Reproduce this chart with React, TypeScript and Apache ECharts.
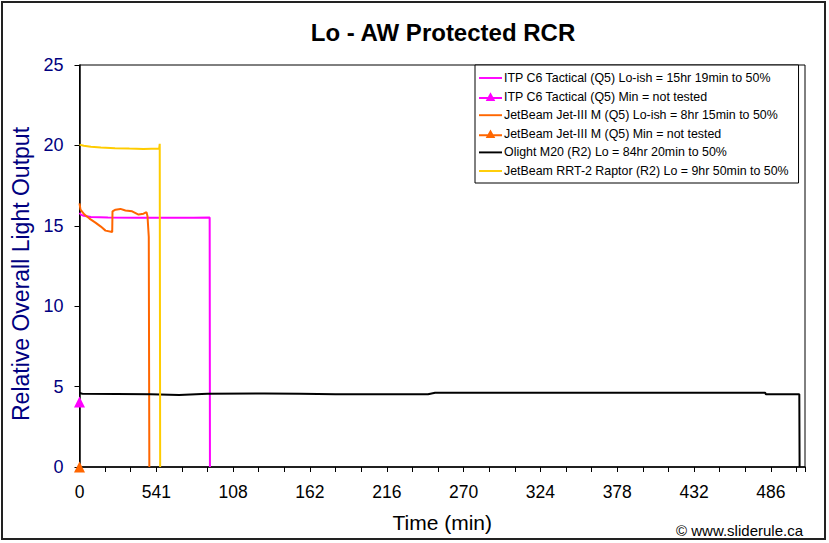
import React, { useEffect, useRef } from "react";
import * as echarts from "echarts";

const TITLE = "Lo - AW Protected RCR";
const X_TICK_LABELS = ["0", "541", "108", "162", "216", "270", "324", "378", "432", "486"];

const SERIES_NAMES = [
  "ITP C6 Tactical (Q5) Lo-ish = 15hr 19min to 50%",
  "ITP C6 Tactical (Q5) Min = not tested",
  "JetBeam Jet-III M (Q5) Lo-ish = 8hr 15min to 50%",
  "JetBeam Jet-III M (Q5) Min = not tested",
  "Olight M20 (R2) Lo = 84hr 20min to 50%",
  "JetBeam RRT-2 Raptor (R2) Lo = 9hr 50min to 50%",
];
const SERIES_COLORS = ["#FF00FF", "#FF00FF", "#FF6600", "#FF6600", "#000000", "#FFCC00"];

const itpLo: [number, number][] = [
  [0, 15.8], [1, 15.7], [3, 15.62], [8, 15.55], [20, 15.52], [40, 15.5],
  [60, 15.5], [80, 15.5], [91.5, 15.52], [91.7, 0],
];
const itpMin: [number, number][] = [[0, 4.05]];
const jetLo: [number, number][] = [
  [0, 16.4], [0.7, 16.0], [3.5, 15.7], [7, 15.45], [11.2, 15.2], [15, 14.95],
  [18.3, 14.7], [23, 14.62], [23.2, 15.9], [25.3, 16.0], [28.8, 16.05],
  [32.3, 15.95], [37, 15.9], [41.5, 15.7], [45, 15.75], [47.1, 15.85],
  [47.8, 15.6], [48.7, 14.3], [49.1, 0],
];
const jetMin: [number, number][] = [[0, 0]];
const olightLo: [number, number][] = [
  [0, 4.6], [2, 4.55], [50, 4.52], [70, 4.48], [90, 4.55], [130, 4.57],
  [155, 4.55], [180, 4.52], [245, 4.52], [250, 4.62], [400, 4.62],
  [482, 4.62], [482.5, 4.52], [506, 4.52], [506.2, 0],
];
const rrtLo: [number, number][] = [
  [0, 20.05], [3, 19.98], [8, 19.92], [15, 19.87], [25, 19.83], [35, 19.8],
  [45, 19.78], [56, 19.8], [56.4, 20.1], [56.7, 0],
];

const FONT = "Liberation Sans, Arial, sans-serif";
const LINE_ICON = "path://M0,5H24V7H0Z";
const TRI_ICON = "path://M0,5H24V7H0Z M12,0L17,9H7Z";

export default function App() {
  const ref = useRef<HTMLDivElement>(null);
  useEffect(() => {
    if (!ref.current) return;
    const chart = echarts.init(ref.current, undefined, { renderer: "svg" });
    const lineSeries = (i: number, data: [number, number][]) => ({
      name: SERIES_NAMES[i],
      type: "line",
      data,
      showSymbol: false,
      symbol: "none",
      lineStyle: { color: SERIES_COLORS[i], width: 2 },
      itemStyle: { color: SERIES_COLORS[i] },
      z: 3,
    });
    const pointSeries = (i: number, data: [number, number][]) => ({
      name: SERIES_NAMES[i],
      type: "line",
      data,
      symbol: "triangle",
      symbolSize: 11,
      showSymbol: true,
      lineStyle: { color: SERIES_COLORS[i], width: 2 },
      itemStyle: { color: SERIES_COLORS[i] },
      z: 4,
    });
    chart.setOption({
      animation: false,
      backgroundColor: "#ffffff",
      textStyle: { fontFamily: FONT },
      title: {
        text: TITLE,
        left: 438,
        textAlign: "center",
        top: 15,
        textStyle: { fontFamily: FONT, fontSize: 24, fontWeight: "bold", color: "#000" },
      },
      graphic: [
        {
          type: "rect",
          shape: { x: 2, y: 2, width: 823, height: 537 },
          style: { fill: "none", stroke: "#222", lineWidth: 2 },
          silent: true,
        },
        {
          type: "text",
          x: 803,
          y: 530,
          style: {
            text: "© www.sliderule.ca",
            fontFamily: FONT,
            fontSize: 15,
            fill: "#000",
            textAlign: "right",
            textVerticalAlign: "middle",
          },
        },
      ],
      legend: {
        orient: "vertical",
        left: 475,
        top: 65,
        width: 320,
        padding: [7, 10, 6, 4],
        backgroundColor: "#fff",
        borderColor: "#000",
        borderWidth: 1,
        itemWidth: 23,
        itemHeight: 12,
        itemGap: 6.6,
        symbolKeepAspect: true,
        textStyle: { fontFamily: FONT, fontSize: 12.4, color: "#000", padding: [0, 0, 0, -3] },
        data: SERIES_NAMES.map((n, i) => ({
          name: n,
          icon: i === 1 || i === 3 ? TRI_ICON : LINE_ICON,
          itemStyle: { color: SERIES_COLORS[i] },
        })),
      },
      grid: {
        left: 79.5,
        top: 65,
        right: 24,
        bottom: 76,
        show: true,
        borderColor: "#000",
        borderWidth: 1,
        backgroundColor: "#fff",
      },
      xAxis: {
        type: "value",
        min: 0,
        max: 510,
        interval: 18,
        name: "Time (min)",
        nameLocation: "middle",
        nameGap: 45,
        nameTextStyle: { fontFamily: FONT, fontSize: 21, color: "#000" },
        splitLine: { show: false },
        axisLine: { show: true, lineStyle: { color: "#000", width: 1.5 } },
        axisTick: { show: true, length: 5, lineStyle: { color: "#000" } },
        axisLabel: {
          margin: 16,
          fontFamily: FONT,
          fontSize: 17.5,
          color: "#000",
          formatter: (v: number) => {
            if (v % 54 !== 0) return "";
            const idx = v / 54;
            return X_TICK_LABELS[idx] ?? "";
          },
        },
      },
      yAxis: {
        type: "value",
        min: 0,
        max: 25,
        interval: 5,
        name: "Relative Overall Light Output",
        nameLocation: "middle",
        nameGap: 46,
        nameTextStyle: {
          fontFamily: FONT,
          fontSize: 23,
          color: "#000080",
          padding: [0, 16, 0, 0],
        },
        splitLine: { show: false },
        axisLine: { show: true, lineStyle: { color: "#000", width: 1.5 } },
        axisTick: { show: true, length: 5, lineStyle: { color: "#000" } },
        axisLabel: { margin: 16, fontFamily: FONT, fontSize: 18, color: "#000080" },
      },
      series: [
        lineSeries(0, itpLo),
        pointSeries(1, itpMin),
        lineSeries(2, jetLo),
        pointSeries(3, jetMin),
        lineSeries(4, olightLo),
        lineSeries(5, rrtLo),
      ],
    });
    return () => chart.dispose();
  }, []);
  return (
    <div
      ref={ref}
      style={{ position: "fixed", left: 0, top: 0, width: 829, height: 543 }}
    />
  );
}
